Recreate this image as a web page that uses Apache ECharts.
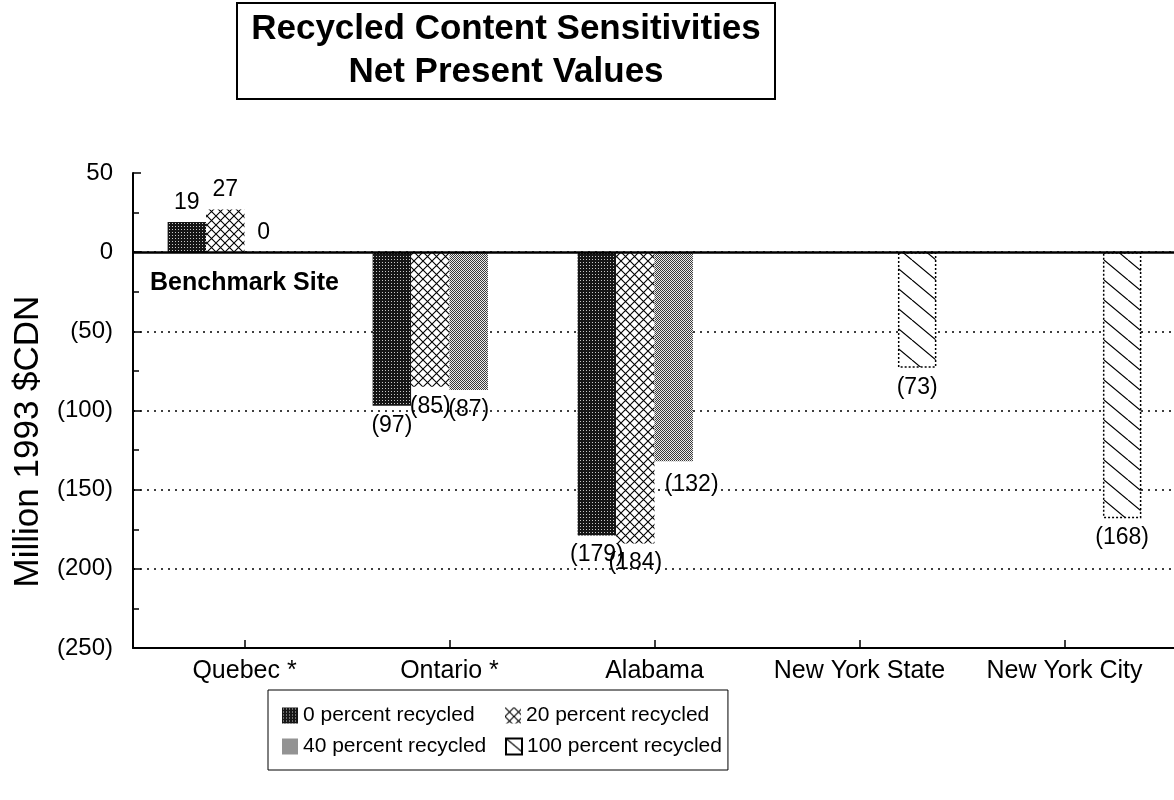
<!DOCTYPE html>
<html>
<head>
<meta charset="utf-8">
<title>Recycled Content Sensitivities</title>
<script src="https://cdn.jsdelivr.net/npm/echarts@6/dist/echarts.min.js"></script>
<style>
  html, body { margin: 0; padding: 0; background: #fff; }
  #chart { width: 1174px; height: 800px; }
</style>
</head>
<body>
<div id="chart"></div>
<script>
// Sites compared, NPV in million 1993 $CDN (negative values shown in parentheses)
const sites = ['Quebec *', 'Ontario *', 'Alabama', 'New York State', 'New York City'];
const seriesNames = ['0 percent recycled', '20 percent recycled', '40 percent recycled', '100 percent recycled'];
const recycled0 = [19, -97, -179, null, null];
const recycled20 = [27, -85, -184, null, null];
const recycled40 = [0, -87, -132, null, null];
const recycled100 = [null, null, null, -73, -168];
const yTicks = { min: -250, max: 50, step: 50 };

const FONT = '"Liberation Sans", Arial, Helvetica, sans-serif';

// Fill textures for the bars
function makeTile(w, h, draw) {
  const c = document.createElement('canvas');
  c.width = w; c.height = h;
  const ctx = c.getContext('2d');
  draw(ctx, w, h);
  return { image: c, repeat: 'repeat' };
}
const texDark = makeTile(3, 3, (ctx, w, h) => {
  ctx.fillStyle = '#151515'; ctx.fillRect(0, 0, w, h);
  ctx.fillStyle = '#c8c8c8'; ctx.fillRect(1, 1, 1, 1);
});
const texCross = makeTile(9, 9, (ctx, w, h) => {
  ctx.fillStyle = '#fff'; ctx.fillRect(0, 0, w, h);
  ctx.strokeStyle = '#000'; ctx.lineWidth = 1.1;
  ctx.beginPath();
  ctx.moveTo(-1, -1); ctx.lineTo(w + 1, h + 1);
  ctx.moveTo(w + 1, -1); ctx.lineTo(-1, h + 1);
  ctx.stroke();
});
const texGray = makeTile(2, 2, (ctx, w, h) => {
  ctx.fillStyle = '#ececec'; ctx.fillRect(0, 0, w, h);
  ctx.fillStyle = '#3a3a3a'; ctx.fillRect(0, 0, 1, 1); ctx.fillRect(1, 1, 1, 1);
});
const texDiag = makeTile(24, 20, (ctx, w, h) => {
  ctx.fillStyle = '#fff'; ctx.fillRect(0, 0, w, h);
  ctx.strokeStyle = '#000'; ctx.lineWidth = 1.2;
  ctx.beginPath();
  ctx.moveTo(0, 0); ctx.lineTo(w, h);
  ctx.moveTo(-w, 0); ctx.lineTo(0, h);
  ctx.moveTo(w, 0); ctx.lineTo(2 * w, h);
  ctx.stroke();
});

function npvText(v) {
  return v < 0 ? '(' + (-v) + ')' : String(v);
}

// Label nudges for crowded spots (series index -> category index -> [dx, dy])
const labelNudge = { 2: { 2: [18, 4] } };

function barData(values, seriesIdx) {
  return values.map((v, i) => {
    if (v == null) return null;
    const item = { value: v, label: { position: v < 0 ? 'bottom' : 'top' } };
    const n = labelNudge[seriesIdx] && labelNudge[seriesIdx][i];
    if (n) item.label.offset = n;
    return item;
  });
}

const valueLabel = {
  show: true,
  color: '#000',
  fontFamily: FONT,
  fontSize: 23,
  distance: 8,
  formatter: p => npvText(p.value)
};

function barSeries(idx, values, color, extraStyle) {
  return {
    name: seriesNames[idx],
    type: 'bar',
    xAxisIndex: 1,
    yAxisIndex: 1,
    barGap: '0%',
    barCategoryGap: '25%',
    data: barData(values, idx),
    itemStyle: Object.assign({ color: color }, extraStyle || {}),
    label: valueLabel,
    emphasis: { disabled: true }
  };
}

const option = {
  animation: false,
  backgroundColor: '#fff',
  textStyle: { fontFamily: FONT, color: '#000' },
  title: {
    text: 'Recycled Content Sensitivities\nNet Present Values',
    left: 492,
    top: 3,
    textAlign: 'center',
    padding: [5, 14, 5, 14],
    borderColor: '#000',
    borderWidth: 2,
    textStyle: {
      fontFamily: FONT,
      fontSize: 35,
      fontWeight: 'bold',
      lineHeight: 43,
      color: '#000'
    }
  },
  legend: {
    data: seriesNames,
    left: 268,
    top: 690,
    width: 480,
    orient: 'horizontal',
    borderColor: '#000',
    borderWidth: 1,
    padding: [15, 6, 13, 14],
    itemWidth: 16,
    itemHeight: 16,
    itemGap: 10,
    icon: 'rect',
    selectedMode: false,
    formatter: name => '{t|' + name + '}',
    textStyle: {
      fontFamily: FONT, fontSize: 21, color: '#000',
      rich: { t: { fontFamily: FONT, fontSize: 21, color: '#000', width: 192, lineHeight: 22 } }
    }
  },
  grid: [
    { left: 133, right: 0, top: 173, bottom: 152 },
    { left: 142, right: 7, top: 173, bottom: 152 }
  ],
  xAxis: [
    {
      type: 'category', gridIndex: 0, data: sites,
      axisLine: { onZero: false, lineStyle: { color: '#000', width: 2 } },
      axisTick: { show: false }, axisLabel: { show: false }, splitLine: { show: false }
    },
    {
      type: 'category', gridIndex: 1, data: sites,
      axisLine: { show: false, onZero: false },
      axisTick: { show: true, inside: true, alignWithLabel: true, interval: 0, length: 8, lineStyle: { color: '#000', width: 1.5 } },
      axisLabel: { color: '#000', fontFamily: FONT, fontSize: 25, margin: 11, interval: 0 },
      splitLine: { show: false }
    }
  ],
  yAxis: [
    {
      type: 'value', gridIndex: 0, min: yTicks.min, max: yTicks.max, interval: yTicks.step,
      name: 'Million 1993 $CDN',
      nameLocation: 'middle',
      nameGap: 78,
      nameTextStyle: { fontFamily: FONT, fontSize: 35, color: '#000', padding: [0, 62, 0, 0] },
      axisLine: { show: true, lineStyle: { color: '#000', width: 2 } },
      axisTick: { show: true, inside: true, length: 8, lineStyle: { color: '#000', width: 1.5 } },
      minorTick: { show: true, splitNumber: 2, length: 6, lineStyle: { color: '#000', width: 1.5 } },
      axisLabel: { color: '#000', fontFamily: FONT, fontSize: 24, margin: 20, formatter: v => npvText(v) },
      splitLine: { show: true, showMaxLine: false, lineStyle: { color: '#000', width: 1.6, type: [2, 5] } }
    },
    {
      type: 'value', gridIndex: 1, min: yTicks.min, max: yTicks.max, interval: yTicks.step,
      show: false, splitLine: { show: false }
    }
  ],
  graphic: [
    {
      type: 'text',
      left: 150,
      top: 271,
      style: { text: 'Benchmark Site', font: 'bold 25px ' + FONT, fill: '#000' }
    }
  ],
  series: [
    {
      name: 'zero line',
      type: 'bar',
      xAxisIndex: 0,
      yAxisIndex: 0,
      data: [],
      markLine: {
        silent: true,
        symbol: 'none',
        label: { show: false },
        lineStyle: { color: '#000', width: 2.5, type: 'solid' },
        data: [{ yAxis: 0 }]
      }
    },
    barSeries(0, recycled0, texDark),
    barSeries(1, recycled20, texCross),
    barSeries(2, recycled40, texGray),
    barSeries(3, recycled100, texDiag, { borderColor: '#000', borderWidth: 1.5, borderType: [2, 2] })
  ]
};

const chart = echarts.init(document.getElementById('chart'), null, { renderer: 'canvas' });
chart.setOption(option);
</script>
</body>
</html>
